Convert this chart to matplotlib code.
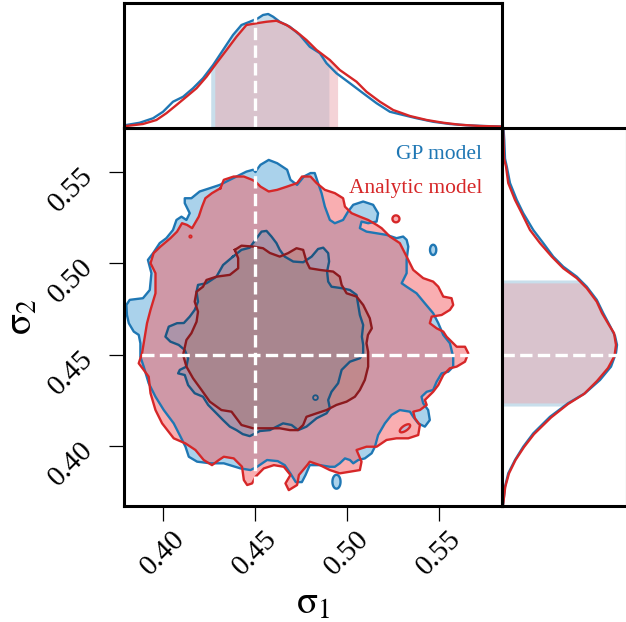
import numpy as np
import matplotlib
matplotlib.use('Agg')
import matplotlib.pyplot as plt

#### settings ####
plt.rcParams['font.family'] = 'serif'
plt.rcParams['font.serif'] = ['Liberation Serif', 'DejaVu Serif']
plt.rcParams['mathtext.fontset'] = 'stix'

#### data ####
truth = [0.45, 0.45]
ticks = [0.40, 0.45, 0.50, 0.55]
tick_labels = ['0.40', '0.45', '0.50', '0.55']
names = ['GP model', 'Analytic model']

# 2D contours (sigma_1, sigma_2)
gp_outer = [(0.4502,0.5503),(0.4529,0.5540),(0.4574,0.5567),(0.4620,0.5549),(0.4674,0.5513),(0.4692,0.5458),(0.4728,0.5430),(0.4765,0.5476),(0.4801,0.5495),(0.4824,0.5495),(0.4842,0.5440),(0.4861,0.5385),(0.4879,0.5311),(0.4906,0.5238),(0.4933,0.5220),(0.4978,0.5238),(0.5005,0.5284),(0.5033,0.5321),(0.5087,0.5339),(0.5141,0.5321),(0.5168,0.5275),(0.5160,0.5229),(0.5114,0.5220),(0.5078,0.5229),(0.5069,0.5193),(0.5105,0.5174),(0.5160,0.5165),(0.5214,0.5156),(0.5268,0.5138),(0.5304,0.5147),(0.5323,0.5129),(0.5332,0.5092),(0.5323,0.5019),(0.5323,0.4946),(0.5296,0.4891),(0.5323,0.4872),(0.5377,0.4836),(0.5422,0.4781),(0.5467,0.4727),(0.5495,0.4672),(0.5522,0.4608),(0.5558,0.4562),(0.5576,0.4488),(0.5576,0.4434),(0.5549,0.4406),(0.5513,0.4397),(0.5486,0.4351),(0.5467,0.4306),(0.5432,0.4296),(0.5404,0.4269),(0.5413,0.4233),(0.5440,0.4196),(0.5449,0.4141),(0.5422,0.4105),(0.5386,0.4123),(0.5359,0.4159),(0.5341,0.4187),(0.5286,0.4196),(0.5241,0.4169),(0.5205,0.4123),(0.5168,0.4059),(0.5151,0.3995),(0.5133,0.3959),(0.5096,0.3931),(0.5060,0.3922),(0.5033,0.3904),(0.5015,0.3922),(0.4988,0.3931),(0.4960,0.3904),(0.4933,0.3885),(0.4906,0.3885),(0.4852,0.3894),(0.4797,0.3894),(0.4774,0.3840),(0.4754,0.3801),(0.4721,0.3801),(0.4694,0.3845),(0.4661,0.3894),(0.4623,0.3916),(0.4565,0.3922),(0.4511,0.3885),(0.4475,0.3867),(0.4421,0.3876),(0.4330,0.3904),(0.4258,0.3904),(0.4185,0.3913),(0.4140,0.3940),(0.4122,0.3995),(0.4095,0.4050),(0.4058,0.4123),(0.4004,0.4196),(0.3959,0.4269),(0.3922,0.4343),(0.3895,0.4434),(0.3877,0.4488),(0.3877,0.4562),(0.3868,0.4608),(0.3841,0.4626),(0.3814,0.4672),(0.3804,0.4717),(0.3801,0.4772),(0.3819,0.4800),(0.3891,0.4809),(0.3928,0.4854),(0.3937,0.4946),(0.3918,0.5019),(0.3946,0.5056),(0.3982,0.5111),(0.4018,0.5138),(0.4054,0.5183),(0.4073,0.5238),(0.4100,0.5256),(0.4127,0.5238),(0.4145,0.5275),(0.4118,0.5330),(0.4118,0.5357),(0.4154,0.5357),(0.4199,0.5394),(0.4254,0.5412),(0.4308,0.5430),(0.4363,0.5458),(0.4417,0.5485),(0.4453,0.5503),(0.4489,0.5513)]

an_outer = [(0.4312,0.5412),(0.4330,0.5458),(0.4384,0.5476),(0.4439,0.5476),(0.4484,0.5458),(0.4502,0.5448),(0.4529,0.5421),(0.4574,0.5394),(0.4620,0.5403),(0.4674,0.5421),(0.4728,0.5440),(0.4755,0.5476),(0.4801,0.5476),(0.4834,0.5440),(0.4879,0.5403),(0.4933,0.5385),(0.4978,0.5357),(0.4988,0.5311),(0.5024,0.5275),(0.5069,0.5256),(0.5114,0.5238),(0.5160,0.5211),(0.5187,0.5193),(0.5232,0.5147),(0.5286,0.5111),(0.5323,0.5037),(0.5359,0.4964),(0.5413,0.4919),(0.5467,0.4900),(0.5495,0.4872),(0.5522,0.4818),(0.5567,0.4809),(0.5576,0.4772),(0.5558,0.4745),(0.5513,0.4717),(0.5459,0.4708),(0.5449,0.4672),(0.5486,0.4644),(0.5522,0.4626),(0.5540,0.4598),(0.5567,0.4571),(0.5595,0.4543),(0.5640,0.4543),(0.5658,0.4507),(0.5640,0.4461),(0.5595,0.4434),(0.5558,0.4425),(0.5522,0.4388),(0.5495,0.4333),(0.5467,0.4296),(0.5422,0.4251),(0.5432,0.4224),(0.5395,0.4196),(0.5359,0.4187),(0.5368,0.4151),(0.5395,0.4114),(0.5386,0.4059),(0.5332,0.4041),(0.5268,0.4041),(0.5214,0.4032),(0.5160,0.3995),(0.5105,0.3995),(0.5051,0.3977),(0.5078,0.3913),(0.5069,0.3867),(0.5015,0.3858),(0.4960,0.3849),(0.4906,0.3867),(0.4852,0.3894),(0.4797,0.3913),(0.4783,0.3894),(0.4738,0.3840),(0.4728,0.3785),(0.4683,0.3757),(0.4665,0.3794),(0.4692,0.3840),(0.4656,0.3885),(0.4602,0.3894),(0.4547,0.3876),(0.4502,0.3830),(0.4484,0.3794),(0.4457,0.3785),(0.4439,0.3812),(0.4429,0.3885),(0.4384,0.3931),(0.4330,0.3940),(0.4303,0.3922),(0.4266,0.3894),(0.4221,0.3922),(0.4176,0.3977),(0.4122,0.4013),(0.4058,0.4041),(0.3995,0.4123),(0.3959,0.4196),(0.3932,0.4288),(0.3922,0.4379),(0.3895,0.4416),(0.3868,0.4452),(0.3886,0.4507),(0.3895,0.4562),(0.3913,0.4672),(0.3932,0.4745),(0.3959,0.4836),(0.3959,0.4946),(0.3932,0.5001),(0.3949,0.5056),(0.3986,0.5092),(0.4040,0.5138),(0.4076,0.5174),(0.4103,0.5220),(0.4130,0.5211),(0.4158,0.5193),(0.4194,0.5256),(0.4212,0.5311),(0.4230,0.5357),(0.4266,0.5385)]

gp_inner = [(0.4380,0.5037),(0.4426,0.5074),(0.4471,0.5086),(0.4508,0.5138),(0.4535,0.5174),(0.4562,0.5178),(0.4589,0.5147),(0.4616,0.5111),(0.4634,0.5074),(0.4661,0.5037),(0.4707,0.5010),(0.4761,0.5006),(0.4807,0.5037),(0.4842,0.5079),(0.4870,0.5086),(0.4897,0.5056),(0.4902,0.5010),(0.4891,0.4955),(0.4897,0.4900),(0.4915,0.4872),(0.4970,0.4864),(0.5015,0.4854),(0.5051,0.4827),(0.5060,0.4772),(0.5069,0.4717),(0.5087,0.4662),(0.5080,0.4598),(0.5087,0.4553),(0.5087,0.4507),(0.5069,0.4480),(0.5015,0.4461),(0.4970,0.4416),(0.4951,0.4343),(0.4915,0.4296),(0.4897,0.4251),(0.4906,0.4205),(0.4888,0.4178),(0.4834,0.4151),(0.4779,0.4105),(0.4734,0.4086),(0.4698,0.4114),(0.4652,0.4123),(0.4580,0.4086),(0.4526,0.4081),(0.4471,0.4053),(0.4433,0.4064),(0.4399,0.4086),(0.4363,0.4105),(0.4326,0.4141),(0.4290,0.4178),(0.4245,0.4224),(0.4217,0.4269),(0.4172,0.4288),(0.4136,0.4333),(0.4118,0.4388),(0.4082,0.4397),(0.4091,0.4416),(0.4127,0.4434),(0.4136,0.4480),(0.4118,0.4525),(0.4085,0.4553),(0.4040,0.4571),(0.4013,0.4598),(0.4031,0.4653),(0.4076,0.4672),(0.4113,0.4673),(0.4145,0.4708),(0.4172,0.4745),(0.4190,0.4790),(0.4182,0.4845),(0.4190,0.4882),(0.4236,0.4891),(0.4290,0.4927),(0.4326,0.4991)]

an_inner = [(0.4390,0.5074),(0.4426,0.5097),(0.4489,0.5092),(0.4543,0.5083),(0.4580,0.5057),(0.4634,0.5037),(0.4679,0.5056),(0.4725,0.5083),(0.4761,0.5074),(0.4779,0.5010),(0.4797,0.4973),(0.4852,0.4964),(0.4924,0.4955),(0.4960,0.4927),(0.4970,0.4882),(0.4997,0.4836),(0.5051,0.4818),(0.5087,0.4772),(0.5123,0.4699),(0.5134,0.4644),(0.5113,0.4608),(0.5105,0.4562),(0.5114,0.4514),(0.5114,0.4434),(0.5096,0.4361),(0.5069,0.4306),(0.5042,0.4269),(0.4997,0.4242),(0.4942,0.4224),(0.4888,0.4196),(0.4834,0.4178),(0.4779,0.4159),(0.4761,0.4114),(0.4732,0.4086),(0.4689,0.4086),(0.4634,0.4096),(0.4562,0.4096),(0.4489,0.4096),(0.4426,0.4114),(0.4372,0.4187),(0.4317,0.4196),(0.4254,0.4242),(0.4209,0.4306),(0.4163,0.4370),(0.4127,0.4434),(0.4109,0.4498),(0.4127,0.4580),(0.4154,0.4617),(0.4182,0.4680),(0.4190,0.4735),(0.4172,0.4790),(0.4182,0.4845),(0.4217,0.4872),(0.4236,0.4909),(0.4290,0.4927),(0.4363,0.4937),(0.4408,0.4973),(0.4408,0.5028)]

# small detached islands: (x, y, half width, half height, tilt in degrees)
gp_islands = [(0.5467, 0.5074, 0.0017, 0.0028, 0), (0.4942, 0.3803, 0.0022, 0.0038, 0)]
an_islands = [(0.5265, 0.5244, 0.0019, 0.0019, 0), (0.4149, 0.5147, 0.0005, 0.0005, 0)]
gp_inner_islands = [(0.4828, 0.4264, 0.0013, 0.0013, 0)]
an_holes = [(0.5314, 0.4096, 0.0033, 0.0014, 35)]

# marginal of sigma_1 (relative density)
s1_x_gp = [0.3801,0.3873,0.3946,0.4000,0.4054,0.4109,0.4163,0.4217,0.4272,0.4326,0.4380,0.4426,0.4471,0.4516,0.4543,0.4571,0.4598,0.4634,0.4689,0.4743,0.4797,0.4852,0.4888,0.4942,0.5015,0.5087,0.5160,0.5232,0.5304,0.5377,0.5467,0.5558,0.5649,0.5739,0.5830]
s1_p_gp = [0.024,0.042,0.078,0.130,0.210,0.250,0.318,0.398,0.504,0.624,0.744,0.824,0.850,0.878,0.904,0.912,0.890,0.850,0.810,0.744,0.650,0.598,0.518,0.438,0.358,0.278,0.198,0.130,0.104,0.078,0.050,0.032,0.022,0.016,0.012]
s1_x_an = [0.3801,0.3891,0.3964,0.4018,0.4073,0.4127,0.4182,0.4236,0.4290,0.4345,0.4399,0.4453,0.4508,0.4562,0.4616,0.4671,0.4725,0.4779,0.4834,0.4906,0.4960,0.5051,0.5105,0.5178,0.5250,0.5341,0.5432,0.5522,0.5612,0.5721,0.5830]
s1_p_an = [0.016,0.032,0.064,0.118,0.184,0.250,0.318,0.410,0.518,0.624,0.730,0.824,0.838,0.850,0.858,0.824,0.770,0.704,0.624,0.544,0.464,0.370,0.290,0.210,0.144,0.096,0.064,0.042,0.026,0.016,0.012]

# marginal of sigma_2 (relative density)
s2_y_gp = [0.5743,0.5677,0.5574,0.5531,0.5440,0.5348,0.5275,0.5183,0.5111,0.5037,0.4982,0.4927,0.4872,0.4800,0.4727,0.4657,0.4602,0.4553,0.4509,0.4434,0.4361,0.4288,0.4233,0.4159,0.4068,0.3995,0.3922,0.3849,0.3775,0.3684]
s2_p_gp = [0.012,0.018,0.024,0.038,0.064,0.118,0.170,0.250,0.330,0.410,0.490,0.598,0.678,0.758,0.810,0.864,0.904,0.920,0.912,0.872,0.784,0.664,0.528,0.384,0.250,0.170,0.104,0.050,0.024,0.010]
s2_y_an = [0.5743,0.5677,0.5574,0.5531,0.5440,0.5348,0.5275,0.5183,0.5111,0.5037,0.4973,0.4919,0.4864,0.4790,0.4727,0.4662,0.4618,0.4553,0.4492,0.4426,0.4355,0.4284,0.4229,0.4155,0.4064,0.3993,0.3922,0.3849,0.3775,0.3684]
s2_p_an = [0.008,0.012,0.016,0.032,0.050,0.104,0.158,0.224,0.304,0.398,0.490,0.598,0.678,0.758,0.800,0.856,0.896,0.912,0.900,0.848,0.760,0.656,0.528,0.392,0.256,0.176,0.108,0.056,0.026,0.010]

# 68% intervals shown in the marginals
s1_band_gp = [0.4259, 0.4901]
s1_band_an = [0.4281, 0.4948]
s2_band_gp = [0.4218, 0.4909]
s2_band_an = [0.4235, 0.4893]

#### colours ####
c_gp, c_an = '#1f77b4', '#d62728'
c_gp_dark, c_an_dark = '#1b5784', '#8c1a1f'

#### figure ####
fig = plt.figure(figsize=(6.26, 6.22), dpi=100)
ax = fig.add_axes([124/626, 116/622, 378/626, 378/622])
ax_top = fig.add_axes([124/626, 494/622, 378/626, 125/622])
ax_right = fig.add_axes([502/626, 116/622, 125/626, 378/622])

xlim = (0.3788, 0.5841)
ylim = (0.3670, 0.5742)


def closed(pts):
    arr = np.array(pts + pts[:1])
    return arr[:, 0], arr[:, 1]


def ellipse(ax, isl, face, edge, lw, z):
    t = np.linspace(0, 2 * np.pi, 60)
    for cx, cy, w, h, ang in isl:
        a = np.deg2rad(ang)
        ex, ey = w * np.cos(t), h * np.sin(t)
        ax.fill(cx + ex * np.cos(a) - ey * np.sin(a), cy + ex * np.sin(a) + ey * np.cos(a),
                facecolor=face, edgecolor=edge, lw=lw, zorder=z)


## main panel ##
gx, gy = closed(gp_outer)
ax.fill(gx, gy, color='#aad2eb', lw=0, zorder=1)
ellipse(ax, gp_islands, '#aad2eb', c_gp, 1.7, 5)

ax_x, ax_y = closed(an_outer)
ax.fill(ax_x, ax_y, color=(245/255, 95/255, 101/255), alpha=0.5, lw=0, zorder=2)
ellipse(ax, an_islands, '#fab0b3', c_an, 1.7, 6)

gix, giy = closed(gp_inner)
ax.fill(gix, giy, color=(91/255, 141/255, 175/255), alpha=0.3, lw=0, zorder=3)
aix, aiy = closed(an_inner)
ax.fill(aix, aiy, color=(163/255, 103/255, 83/255), alpha=0.3, lw=0, zorder=4)

ax.plot(gx, gy, color=c_gp, lw=1.7, zorder=5)
ax.plot(gix, giy, color=c_gp_dark, lw=1.7, zorder=5)
ellipse(ax, gp_inner_islands, 'none', c_gp_dark, 1.3, 5)
ax.plot(ax_x, ax_y, color=c_an, lw=1.7, zorder=6)
ax.plot(aix, aiy, color=c_an_dark, lw=1.7, zorder=6)
ellipse(ax, an_holes, '#c5b3cc', c_an, 1.7, 6)

ax.axvline(truth[0], color='white', ls='--', lw=2.4, zorder=7)
ax.axhline(truth[1], color='white', ls='--', lw=2.4, zorder=7)

ax.text(0.947, 0.929, names[0], color=c_gp, fontsize=15.5, ha='right',
        va='center', transform=ax.transAxes)
ax.text(0.947, 0.841, names[1], color=c_an, fontsize=15.5, ha='right',
        va='center', transform=ax.transAxes)

ax.set_xlim(xlim)
ax.set_ylim(ylim)
ax.set_xticks(ticks)
ax.set_xticklabels(tick_labels, rotation=45, fontsize=21)
ax.set_yticks(ticks)
ax.set_yticklabels(tick_labels, rotation=45, fontsize=21, ha='right', va='center',
                   rotation_mode='anchor')
ax.tick_params(length=11, width=0.9, direction='out')
ax.tick_params(axis='x', pad=3)
ax.tick_params(axis='y', pad=14)
ax.set_xlabel(r'$\mathrm{\sigma}_1$', fontsize=28, labelpad=4)
ax.set_ylabel(r'$\mathrm{\sigma}_2$', fontsize=28, labelpad=2)


def band(a, xs, ps, lims, color, alpha, z, vertical=False):
    xs = np.asarray(xs)
    ps = np.asarray(ps)
    order = np.argsort(xs)
    xs, ps = xs[order], ps[order]
    lo, hi = lims
    m = (xs > lo) & (xs < hi)
    bx = np.r_[lo, xs[m], hi]
    bp = np.r_[np.interp(lo, xs, ps), ps[m], np.interp(hi, xs, ps)]
    if vertical:
        a.fill_betweenx(bx, 0, bp, color=color, alpha=alpha, lw=0, zorder=z)
    else:
        a.fill_between(bx, 0, bp, color=color, alpha=alpha, lw=0, zorder=z)


## top marginal ##
band(ax_top, s1_x_gp, s1_p_gp, s1_band_gp, '#c8deeb', 1.0, 1)
band(ax_top, s1_x_an, s1_p_an, s1_band_an, (235/255, 169/255, 177/255), 0.5, 2)
ax_top.plot(s1_x_gp, s1_p_gp, color=c_gp, lw=1.7, zorder=3)
ax_top.plot(s1_x_an, s1_p_an, color=c_an, lw=1.7, zorder=4)
ax_top.axvline(truth[0], color='white', ls='--', lw=2.4, zorder=5)
ax_top.set_xlim(xlim)
ax_top.set_ylim(0, 1)
ax_top.set_xticks([])
ax_top.set_yticks([])

## right marginal ##
band(ax_right, s2_y_gp, s2_p_gp, s2_band_gp, '#c8deeb', 1.0, 1, vertical=True)
band(ax_right, s2_y_an, s2_p_an, s2_band_an, (235/255, 169/255, 177/255), 0.5, 2,
     vertical=True)
ax_right.plot(s2_p_gp, s2_y_gp, color=c_gp, lw=1.7, zorder=3)
ax_right.plot(s2_p_an, s2_y_an, color=c_an, lw=1.7, zorder=4)
ax_right.axhline(truth[1], color='white', ls='--', lw=2.4, zorder=5)
ax_right.set_ylim(ylim)
ax_right.set_xlim(0, 1)
ax_right.set_xticks([])
ax_right.set_yticks([])

for a in (ax, ax_top, ax_right):
    for s in a.spines.values():
        s.set_linewidth(2.2)
        s.set_zorder(10)

fig.savefig('out.png', dpi=100)
